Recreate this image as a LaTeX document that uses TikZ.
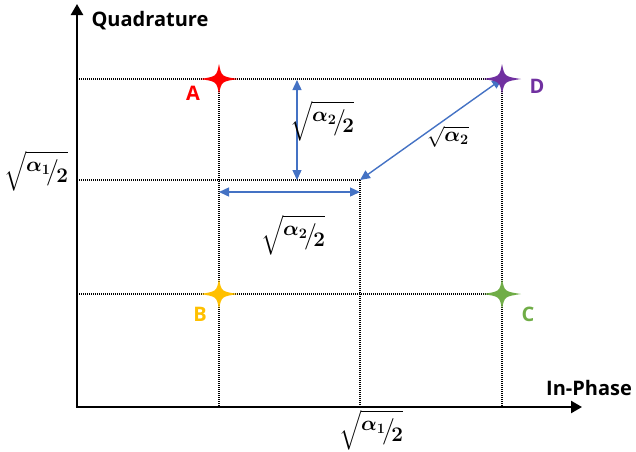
\documentclass[tikz,border=0pt]{standalone}
\usepackage{amsmath,amssymb,bm}
\usepackage[no-math]{fontspec}
\setmainfont{Open Sans}
\usetikzlibrary{arrows.meta}
\definecolor{ablue}{RGB}{68,114,196}
\definecolor{cA}{RGB}{255,0,0}
\definecolor{cB}{RGB}{255,192,0}
\definecolor{cC}{RGB}{112,173,71}
\definecolor{cD}{RGB}{112,48,160}
\newcommand{\halfsq}[1]{$\sqrt{\raisebox{0.55ex}{$\bm{\alpha}_{\mathbf{#1}}$}\!\big/\!\raisebox{-0.45ex}{$\mathbf{2}$}}$}
\tikzset{
  axis/.style={line width=2.4pt,-{Triangle[length=11pt,width=12pt]}},
  grid/.style={line width=1.1pt,dash pattern=on 1pt off 1pt},
  barrow/.style={ablue,line width=1.4pt,{Triangle[length=10pt,width=9pt]}-{Triangle[length=10pt,width=9pt]}},
  lbl/.style={font=\fontsize{20}{24}\selectfont\bfseries,inner sep=0pt},
  mlbl/.style={font=\fontsize{22}{26}\selectfont,inner sep=0pt},
  star/.pic={\fill (19,0) .. controls (2.5,-2.5) .. (0,-15) .. controls (-2.5,-2.5) .. (-19,0) .. controls (-2.5,2.5) .. (0,15) .. controls (2.5,2.5) .. cycle;}
}
\begin{document}
\begin{tikzpicture}[x=1pt,y=-1pt]
\useasboundingbox (0,0) rectangle (636,451);
\coordinate (O) at (77,407);
\coordinate (ytop) at (77,4);
\coordinate (xend) at (582,407);
\coordinate (A) at (219,79);
\coordinate (D) at (502,79);
\coordinate (B) at (219,294);
\coordinate (C) at (502,294);
\coordinate (M) at (360,180);
\coordinate (yA) at (77,79);
\coordinate (yM) at (77,180);
\coordinate (yB) at (77,294);
\coordinate (xA) at (219,407);
\coordinate (xM) at (360,407);
\coordinate (xD) at (502,407);
\coordinate (v1) at (297,80);
\coordinate (v2) at (297,180);
\coordinate (h1) at (219,192);
\coordinate (h2) at (360,192);
% grid
\draw[grid] (yA) -- (D);
\draw[grid] (yM) -- (M);
\draw[grid] (yB) -- (C);
\draw[grid] (A) -- (xA);
\draw[grid] (M) -- (xM);
\draw[grid] (D) -- (xD);
% axes
\draw[axis] (O) -- (ytop);
\draw[axis] ([xshift=-1.2pt]O) -- (xend);
% blue arrows
\draw[barrow] (v1) -- (v2);
\draw[barrow] (h1) -- (h2);
\draw[barrow] (M) -- (D);
% stars
\pic[cA] at (A) {star};
\pic[cD] at (D) {star};
\pic[cB] at (B) {star};
\pic[cC] at (C) {star};
% labels
\node[lbl,cA] (lA) at (193,93) {A};
\node[lbl,cD] (lD) at (537,86) {D};
\node[lbl,cB] (lB) at (200,314) {B};
\node[lbl,cC] (lC) at (528,314) {C};
\node[lbl] (lq) at (150,21) {Quadrature};
\node[lbl] (li) at (589,388) {In-Phase};
\node[mlbl] (s1) at (36,171) {\halfsq{1}};
\node[mlbl] (s2) at (371,430) {\halfsq{1}};
\node[mlbl] (s3) at (322,121) {\halfsq{2}};
\node[mlbl] (s4) at (293,235) {\halfsq{2}};
\node[mlbl] (s5) at (448,137) {$\sqrt{\bm{\alpha}_{\mathbf{2}}}$};
\end{tikzpicture}
\end{document}
